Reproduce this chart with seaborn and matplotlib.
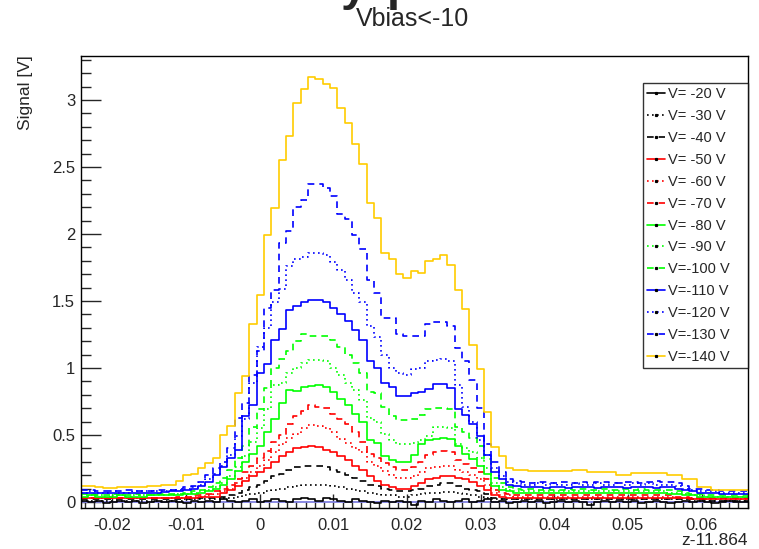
import numpy as np
import pandas as pd
import matplotlib
matplotlib.use("Agg")
import matplotlib.pyplot as plt
import seaborn as sns
from matplotlib.lines import Line2D
from matplotlib.ticker import MultipleLocator, FuncFormatter

# ---------------- data ----------------
z_min, z_max, n_bins = -0.0243, 0.0663, 91
zero_level = 0.0
labels = ["V= -20 V", "V= -30 V", "V= -40 V", "V= -50 V", "V= -60 V", "V= -70 V",
          "V= -80 V", "V= -90 V", "V=-100 V", "V=-110 V", "V=-120 V", "V=-130 V", "V=-140 V"]

v20 = [0.01, 0.00, 0.01, -0.01, 0.00, 0.01, 0.00, 0.01, -0.01, 0.00,
       0.01, 0.00, 0.01, 0.00, -0.01, 0.01, 0.00, 0.01, 0.00, 0.02,
       0.01, 0.00, 0.01, 0.02, 0.00, 0.01, 0.02, 0.01, 0.00, 0.02,
       0.03, 0.02, 0.01, 0.03, 0.02, 0.01, 0.00, 0.02, 0.01, 0.00,
       -0.01, 0.01, 0.00, 0.01, 0.00, -0.02, 0.01, 0.00, 0.02, 0.01,
       0.00, 0.01, 0.02, 0.00, 0.01, 0.02, 0.00, 0.01, -0.01, 0.00,
       0.01, 0.00, 0.01, -0.01, 0.00, 0.01, 0.00, 0.01, 0.00, -0.02,
       0.00, 0.01, 0.00, 0.01, 0.00, 0.01, -0.01, 0.00, 0.01, 0.00,
       -0.01, 0.00, 0.01, 0.00, 0.01, 0.00, -0.01, 0.00, 0.01, 0.00,
       0.00]
v30 = [0.01, 0.01, 0.01, 0.01, 0.01, 0.01, 0.01, 0.01, 0.01, 0.01,
       0.01, 0.01, 0.01, 0.01, 0.02, 0.02, 0.02, 0.02, 0.02, 0.03,
       0.03, 0.04, 0.05, 0.06, 0.07, 0.08, 0.09, 0.10, 0.11, 0.12,
       0.13, 0.13, 0.13, 0.13, 0.12, 0.11, 0.10, 0.09, 0.08, 0.07,
       0.06, 0.05, 0.05, 0.04, 0.04, 0.05, 0.06, 0.07, 0.07, 0.075,
       0.075, 0.07, 0.06, 0.05, 0.04, 0.03, 0.02, 0.02, 0.02, 0.02,
       0.02, 0.02, 0.02, 0.02, 0.02, 0.02, 0.02, 0.02, 0.02, 0.02,
       0.02, 0.02, 0.02, 0.02, 0.02, 0.02, 0.02, 0.02, 0.02, 0.02,
       0.02, 0.02, 0.02, 0.01, 0.01, 0.01, 0.01, 0.01, 0.01, 0.01,
       0.01]
v40 = [0.02, 0.02, 0.02, 0.02, 0.02, 0.02, 0.02, 0.02, 0.02, 0.02,
       0.02, 0.02, 0.02, 0.02, 0.02, 0.02, 0.03, 0.03, 0.03, 0.04,
       0.05, 0.07, 0.09, 0.11, 0.13, 0.16, 0.19, 0.21, 0.24, 0.26,
       0.27, 0.27, 0.27, 0.26, 0.24, 0.22, 0.20, 0.18, 0.16, 0.13,
       0.12, 0.10, 0.09, 0.08, 0.08, 0.09, 0.10, 0.12, 0.13, 0.14,
       0.14, 0.12, 0.10, 0.09, 0.08, 0.06, 0.03, 0.02, 0.02, 0.02,
       0.02, 0.02, 0.02, 0.02, 0.02, 0.02, 0.02, 0.02, 0.02, 0.02,
       0.02, 0.02, 0.02, 0.02, 0.02, 0.02, 0.02, 0.02, 0.02, 0.02,
       0.02, 0.02, 0.02, 0.02, 0.02, 0.01, 0.01, 0.01, 0.01, 0.01,
       0.01]
v50 = [0.03, 0.03, 0.03, 0.03, 0.03, 0.03, 0.03, 0.03, 0.03, 0.03,
       0.03, 0.03, 0.03, 0.03, 0.03, 0.03, 0.035, 0.035, 0.04, 0.07,
       0.09, 0.12, 0.16, 0.19, 0.22, 0.25, 0.30, 0.34, 0.37, 0.40,
       0.41, 0.415, 0.41, 0.39, 0.37, 0.34, 0.31, 0.27, 0.24, 0.19,
       0.16, 0.13, 0.11, 0.10, 0.10, 0.12, 0.14, 0.17, 0.18, 0.19,
       0.19, 0.18, 0.17, 0.15, 0.12, 0.09, 0.05, 0.04, 0.03, 0.03,
       0.03, 0.03, 0.03, 0.03, 0.03, 0.03, 0.03, 0.03, 0.03, 0.03,
       0.03, 0.03, 0.03, 0.03, 0.03, 0.03, 0.03, 0.03, 0.03, 0.03,
       0.03, 0.03, 0.03, 0.02, 0.02, 0.02, 0.02, 0.02, 0.02, 0.02,
       0.02]
v60 = [0.03, 0.03, 0.03, 0.03, 0.03, 0.03, 0.03, 0.03, 0.03, 0.03,
       0.03, 0.03, 0.03, 0.03, 0.04, 0.04, 0.04, 0.05, 0.06, 0.08,
       0.10, 0.14, 0.18, 0.22, 0.27, 0.31, 0.37, 0.43, 0.48, 0.51,
       0.55, 0.575, 0.57, 0.55, 0.52, 0.47, 0.44, 0.40, 0.37, 0.30,
       0.27, 0.23, 0.20, 0.18, 0.18, 0.19, 0.22, 0.25, 0.26, 0.27,
       0.27, 0.24, 0.22, 0.20, 0.17, 0.13, 0.07, 0.05, 0.05, 0.04,
       0.04, 0.04, 0.04, 0.04, 0.04, 0.04, 0.04, 0.04, 0.04, 0.04,
       0.04, 0.04, 0.04, 0.04, 0.04, 0.04, 0.04, 0.04, 0.04, 0.04,
       0.04, 0.03, 0.03, 0.03, 0.03, 0.02, 0.02, 0.02, 0.02, 0.02,
       0.02]
v70 = [0.03, 0.03, 0.03, 0.03, 0.03, 0.03, 0.03, 0.03, 0.03, 0.03,
       0.03, 0.03, 0.03, 0.04, 0.04, 0.05, 0.05, 0.06, 0.08, 0.10,
       0.13, 0.17, 0.22, 0.27, 0.33, 0.38, 0.45, 0.50, 0.58, 0.64,
       0.68, 0.72, 0.71, 0.70, 0.66, 0.62, 0.58, 0.52, 0.45, 0.36,
       0.33, 0.29, 0.26, 0.24, 0.24, 0.26, 0.30, 0.35, 0.375, 0.38,
       0.37, 0.31, 0.28, 0.25, 0.22, 0.17, 0.09, 0.07, 0.06, 0.05,
       0.05, 0.05, 0.05, 0.05, 0.05, 0.05, 0.05, 0.05, 0.05, 0.05,
       0.05, 0.05, 0.05, 0.05, 0.05, 0.05, 0.05, 0.05, 0.05, 0.05,
       0.05, 0.04, 0.04, 0.03, 0.03, 0.03, 0.03, 0.03, 0.03, 0.03,
       0.03]
v80 = [0.04, 0.05, 0.04, 0.04, 0.04, 0.05, 0.04, 0.04, 0.04, 0.05,
       0.05, 0.05, 0.05, 0.05, 0.06, 0.06, 0.07, 0.08, 0.10, 0.13,
       0.17, 0.23, 0.30, 0.36, 0.42, 0.52, 0.62, 0.74, 0.835, 0.83,
       0.86, 0.865, 0.87, 0.86, 0.82, 0.77, 0.72, 0.66, 0.60, 0.46,
       0.44, 0.34, 0.31, 0.30, 0.30, 0.35, 0.43, 0.46, 0.47, 0.475,
       0.47, 0.42, 0.36, 0.32, 0.27, 0.21, 0.12, 0.09, 0.08, 0.07,
       0.07, 0.07, 0.07, 0.07, 0.07, 0.07, 0.07, 0.07, 0.07, 0.07,
       0.07, 0.07, 0.07, 0.07, 0.07, 0.07, 0.07, 0.07, 0.07, 0.07,
       0.06, 0.06, 0.05, 0.05, 0.04, 0.04, 0.04, 0.04, 0.04, 0.04,
       0.04]
v90 = [0.05, 0.05, 0.05, 0.04, 0.05, 0.05, 0.04, 0.05, 0.05, 0.05,
       0.05, 0.05, 0.05, 0.06, 0.06, 0.07, 0.08, 0.09, 0.11, 0.14,
       0.19, 0.26, 0.34, 0.45, 0.55, 0.69, 0.87, 0.89, 0.96, 1.00,
       1.035, 1.06, 1.06, 1.05, 1.00, 0.95, 0.89, 0.835, 0.76, 0.625,
       0.60, 0.51, 0.46, 0.43, 0.43, 0.44, 0.465, 0.49, 0.56, 0.56,
       0.55, 0.43, 0.40, 0.37, 0.33, 0.25, 0.14, 0.11, 0.09, 0.08,
       0.08, 0.08, 0.08, 0.08, 0.08, 0.08, 0.08, 0.08, 0.08, 0.08,
       0.08, 0.08, 0.08, 0.08, 0.08, 0.08, 0.08, 0.08, 0.08, 0.08,
       0.07, 0.07, 0.06, 0.05, 0.05, 0.04, 0.04, 0.04, 0.04, 0.04,
       0.04]
v100 = [0.06, 0.06, 0.05, 0.05, 0.06, 0.05, 0.05, 0.06, 0.05, 0.05,
        0.06, 0.06, 0.06, 0.06, 0.07, 0.08, 0.09, 0.11, 0.14, 0.18,
        0.24, 0.33, 0.42, 0.56, 0.69, 0.85, 1.00, 1.07, 1.13, 1.20,
        1.25, 1.24, 1.24, 1.24, 1.21, 1.16, 1.10, 1.035, 0.965, 0.82,
        0.81, 0.71, 0.64, 0.61, 0.61, 0.62, 0.65, 0.69, 0.70, 0.70,
        0.69, 0.56, 0.52, 0.48, 0.42, 0.32, 0.18, 0.14, 0.11, 0.10,
        0.09, 0.10, 0.09, 0.10, 0.09, 0.09, 0.10, 0.09, 0.10, 0.09,
        0.09, 0.10, 0.09, 0.09, 0.10, 0.09, 0.10, 0.09, 0.09, 0.09,
        0.09, 0.08, 0.07, 0.06, 0.06, 0.05, 0.05, 0.05, 0.05, 0.05,
        0.05]
v110 = [0.07, 0.07, 0.07, 0.07, 0.07, 0.07, 0.07, 0.07, 0.07, 0.07,
        0.07, 0.075, 0.08, 0.08, 0.09, 0.10, 0.12, 0.15, 0.20, 0.26,
        0.33, 0.39, 0.64, 0.72, 0.96, 1.03, 1.21, 1.29, 1.43, 1.465,
        1.495, 1.51, 1.51, 1.495, 1.45, 1.40, 1.35, 1.28, 1.21, 1.05,
        1.00, 0.89, 0.86, 0.79, 0.79, 0.81, 0.82, 0.84, 0.88, 0.88,
        0.85, 0.69, 0.65, 0.58, 0.49, 0.35, 0.22, 0.17, 0.13, 0.12,
        0.11, 0.11, 0.11, 0.105, 0.11, 0.11, 0.105, 0.11, 0.11, 0.11,
        0.105, 0.11, 0.11, 0.11, 0.105, 0.11, 0.11, 0.11, 0.105, 0.11,
        0.11, 0.10, 0.09, 0.08, 0.07, 0.07, 0.07, 0.06, 0.06, 0.06,
        0.06]
v120 = [0.07, 0.08, 0.07, 0.07, 0.08, 0.07, 0.07, 0.08, 0.08, 0.08,
        0.08, 0.08, 0.09, 0.09, 0.10, 0.11, 0.13, 0.17, 0.21, 0.27,
        0.35, 0.49, 0.62, 0.89, 1.16, 1.30, 1.49, 1.59, 1.76, 1.81,
        1.83, 1.86, 1.86, 1.84, 1.79, 1.73, 1.66, 1.56, 1.49, 1.31,
        1.23, 1.10, 1.00, 0.96, 0.95, 0.99, 1.00, 1.05, 1.06, 1.07,
        1.05, 0.87, 0.71, 0.60, 0.46, 0.35, 0.25, 0.19, 0.15, 0.14,
        0.13, 0.13, 0.14, 0.13, 0.14, 0.13, 0.13, 0.14, 0.13, 0.13,
        0.14, 0.13, 0.13, 0.14, 0.13, 0.14, 0.13, 0.14, 0.13, 0.13,
        0.13, 0.12, 0.10, 0.09, 0.08, 0.08, 0.08, 0.07, 0.07, 0.07,
        0.07]
v130 = [0.09, 0.09, 0.08, 0.08, 0.08, 0.08, 0.09, 0.08, 0.08, 0.085,
        0.09, 0.09, 0.09, 0.10, 0.11, 0.12, 0.15, 0.20, 0.25, 0.30,
        0.40, 0.63, 0.74, 0.95, 1.13, 1.45, 1.58, 1.935, 2.02, 2.20,
        2.25, 2.37, 2.37, 2.34, 2.28, 2.15, 2.11, 1.99, 1.89, 1.66,
        1.56, 1.37, 1.37, 1.25, 1.24, 1.24, 1.24, 1.33, 1.34, 1.34,
        1.31, 1.15, 1.05, 0.91, 0.70, 0.43, 0.30, 0.22, 0.17, 0.16,
        0.15, 0.14, 0.15, 0.15, 0.14, 0.15, 0.15, 0.14, 0.15, 0.14,
        0.15, 0.15, 0.14, 0.14, 0.15, 0.15, 0.14, 0.15, 0.16, 0.15,
        0.15, 0.14, 0.12, 0.10, 0.10, 0.09, 0.09, 0.08, 0.08, 0.08,
        0.08]
v140 = [0.12, 0.12, 0.11, 0.105, 0.105, 0.11, 0.11, 0.11, 0.115, 0.12,
        0.12, 0.13, 0.13, 0.16, 0.20, 0.21, 0.25, 0.29, 0.33, 0.50,
        0.57, 0.81, 0.94, 1.33, 1.545, 1.99, 2.19, 2.55, 2.73, 2.975,
        3.08, 3.17, 3.16, 3.12, 3.09, 2.94, 2.83, 2.67, 2.52, 2.23,
        2.12, 1.86, 1.81, 1.70, 1.67, 1.72, 1.71, 1.80, 1.81, 1.84,
        1.77, 1.58, 1.44, 1.17, 0.99, 0.67, 0.41, 0.34, 0.25, 0.24,
        0.24, 0.23, 0.23, 0.23, 0.23, 0.23, 0.23, 0.24, 0.24, 0.225,
        0.225, 0.225, 0.225, 0.20, 0.20, 0.215, 0.215, 0.215, 0.215, 0.215,
        0.20, 0.20, 0.17, 0.17, 0.11, 0.11, 0.09, 0.09, 0.09, 0.09,
        0.09]

series = [v20, v30, v40, v50, v60, v70, v80, v90, v100, v110, v120, v130, v140]

# ---------------- style ----------------
colors = ["black"] * 3 + ["#ff0000"] * 3 + ["#00ff00"] * 3 + ["#0000ff"] * 3 + ["#ffcc00"]
dashed = (0, (4, 3))
dotted = (0, (1, 2))
styles = ["-", dotted, dashed] * 4 + ["-"]
LW = 1.2

sns.set_style("white")
plt.rcParams["font.family"] = ["Liberation Sans", "DejaVu Sans"]

fig = plt.figure(figsize=(7.59, 5.49), dpi=100)
ax = fig.add_axes([0.1063, 0.0747, 0.8792, 0.8238])

bw = (z_max - z_min) / n_bins
centers = z_min + bw * (np.arange(n_bins) + 0.5)
df = pd.DataFrame({"z": centers})
for lab, vals in zip(labels, series):
    df[lab] = vals

ax.axhline(zero_level, color="#8080e0", lw=1.3, zorder=1)

handles = []
for lab, c, ls in zip(labels, colors, styles):
    sns.histplot(data=df, x="z", weights=lab, bins=n_bins, binrange=(z_min, z_max),
                 element="step", fill=False, color=c, linestyle=ls, linewidth=LW, ax=ax,
                 zorder=2)
    ln = Line2D([], [], color=c, linestyle=ls, linewidth=LW)
    dot = Line2D([], [], color="black", marker="s", markersize=1.3, linestyle="none")
    handles.append((ln, dot))

ax.set_xlim(z_min, z_max)
ax.set_ylim(-0.045, 3.33)

fmt = FuncFormatter(lambda v, p: "%g" % round(v, 6))
ax.xaxis.set_major_locator(MultipleLocator(0.01))
ax.xaxis.set_minor_locator(MultipleLocator(0.00125))
ax.yaxis.set_major_locator(MultipleLocator(0.5))
ax.yaxis.set_minor_locator(MultipleLocator(0.1))
ax.xaxis.set_major_formatter(fmt)
ax.yaxis.set_major_formatter(fmt)

ax.tick_params(axis="x", which="major", direction="in", length=9.8, width=1, labelsize=12, pad=7,
               bottom=True, top=False)
ax.tick_params(axis="x", which="minor", direction="in", length=4.9, width=1, bottom=True, top=False)
ax.tick_params(axis="y", which="major", direction="in", length=14.4, width=1, labelsize=12, pad=4,
               left=True, right=False)
ax.tick_params(axis="y", which="minor", direction="in", length=7.2, width=1, left=True, right=False)
for sp in ax.spines.values():
    sp.set_color("black")
    sp.set_linewidth(1)

ax.set_ylabel("Signal [V]", fontsize=12.5, loc="top")
ax.yaxis.set_label_coords(-0.072, 1.0)
ax.set_xlabel("z-11.864", fontsize=12.5, loc="right")
ax.xaxis.set_label_coords(1.0, -0.056)

leg = ax.legend(handles, labels, loc="upper left", bbox_to_anchor=(0.8427, 0.3117, 0.1573, 0.6280),
                mode="expand", fontsize=10.5, frameon=True, fancybox=False, handlelength=1.24,
                handletextpad=0.2, labelspacing=0.54, borderpad=0.3, borderaxespad=0)
leg.get_frame().set_edgecolor("black")
leg.get_frame().set_linewidth(1)

fig.text(0.544, 0.9654, "Vbias<-10", fontsize=18, ha="center", va="center")
fig.text(0.449, 1.0, "y", fontsize=34, fontweight="bold", ha="left", va="baseline")
fig.text(0.5097, 1.0, "p", fontsize=34, fontweight="bold", ha="left", va="baseline")

fig.savefig("out.png", dpi=100)
